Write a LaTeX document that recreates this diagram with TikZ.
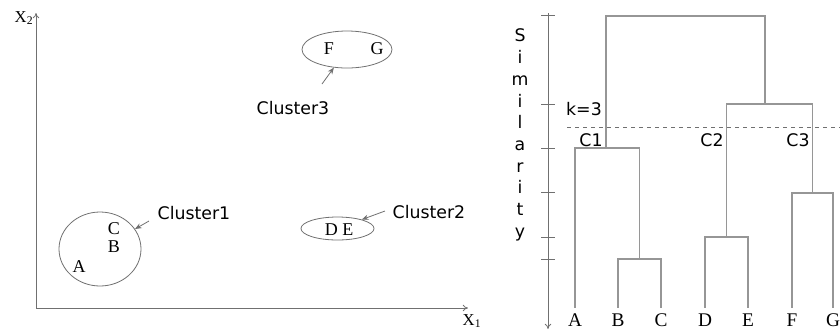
\documentclass[tikz,border=0pt]{standalone}
\usepackage{fontspec}
\setmainfont{Liberation Serif}
\setsansfont{DejaVu Sans}
\usetikzlibrary{arrows.meta,shapes.geometric}
\definecolor{axgray}{RGB}{112,112,112}
\definecolor{treegray}{RGB}{150,150,150}

\begin{document}
\begin{tikzpicture}[x=.75pt,y=-.75pt,
    axis/.style={draw=axgray,line width=.6pt,-{To[length=4pt,width=5pt]}},
    blob/.style={ellipse,draw=axgray,line width=.6pt,inner sep=0pt},
    ptr/.style={draw=axgray,line width=.6pt,-{Stealth[length=5pt,width=4pt]}},
    pt/.style={font=\fontsize{13.5}{15}\selectfont,inner sep=0pt},
    lab/.style={font=\sffamily\fontsize{13}{15}\selectfont,inner sep=0pt},
    leaf/.style={font=\fontsize{14.5}{16}\selectfont,inner sep=0pt,
      text height=9.6pt,text depth=0pt,outer ysep=4.5pt},
    tree/.style={draw=treegray,line width=1pt},
    tick/.style={draw=axgray,line width=.6pt}]
  \useasboundingbox (0,0) rectangle (840,330);

  % Scatter plot: the two axes.
  \coordinate (orig) at (36,308);
  \coordinate (xtip) at (468,308);
  \coordinate (ytip) at (36,13);
  \draw[axis] (orig) -- (xtip);
  \draw[axis] (orig) -- (ytip);
  \node[pt,font=\fontsize{12.5}{14}\selectfont] (xlab) at (472,321) {X\textsubscript{1}};
  \node[pt,font=\fontsize{12.5}{14}\selectfont] (ylab) at (24,18) {X\textsubscript{2}};

  % Cluster1: A, B, C in a circle.
  \node[blob,minimum width=61.5pt,minimum height=55.5pt] (ell1) at (100,249) {};
  \node[pt] (pa) at (79,267) {A};
  \node[pt] (pb) at (114,247) {B};
  \node[pt] (pc) at (114,229) {C};
  \node[lab] (lab1) at (194,213) {Cluster1};
  \coordinate (tail1) at (149,221);
  \draw[ptr] (tail1) -- (ell1);

  % Cluster2: D and E.
  \node[blob,minimum width=54.75pt,minimum height=17.25pt] (ell2) at (337.5,228.5) {};
  \node[pt] (pde) at (339,230) {D E};
  \node[lab] (lab2) at (429,212) {Cluster2};
  \coordinate (tail2) at (385,211);
  \draw[ptr] (tail2) -- (ell2);

  % Cluster3: F and G.
  \node[blob,minimum width=67.5pt,minimum height=27.75pt] (ell3) at (347,49.5) {};
  \node[pt] (pf) at (329,49) {F};
  \node[pt] (pg) at (377,49) {G};
  \node[lab] (lab3) at (293,108) {Cluster3};
  \coordinate (tail3) at (322,84);
  \draw[ptr] (tail3) -- (ell3);

  % Dendrogram: similarity axis with ticks.
  \coordinate (stop) at (548,13);
  \coordinate (sbot) at (548,329);
  \draw[axis] (stop) -- (sbot);
  \foreach \ty in {15,104,148,192,237,259}
    \draw[tick] (541,\ty) -- (555,\ty);
  \node[lab,font=\sffamily\fontsize{13}{16.3}\selectfont,align=center]
    (simlab) at (520,135) {S\\i\\m\\i\\l\\a\\r\\i\\t\\y};

  % Leaves.
  \node[leaf] (A) at (575,320) {A};
  \node[leaf] (B) at (618,320) {B};
  \node[leaf] (C) at (661,320) {C};
  \node[leaf] (D) at (705,320) {D};
  \node[leaf] (E) at (748,320) {E};
  \node[leaf] (F) at (792,320) {F};
  \node[leaf] (G) at (833,320) {G};

  % Merge points.
  \coordinate (jBC) at (639.5,259);
  \coordinate (jDE) at (726.5,237);
  \coordinate (jFG) at (812.5,193);
  \coordinate (jABC) at (606,148);
  \coordinate (jR) at (765,104);
  \coordinate (jTop) at (685,16);
  \draw[tree] (B.north) |- (jBC) -| (C.north);
  \draw[tree] (A.north) |- (jABC) -| (jBC);
  \draw[tree] (D.north) |- (jDE) -| (E.north);
  \draw[tree] (F.north) |- (jFG) -| (G.north);
  \draw[tree] (jDE) |- (jR) -| (jFG);
  \draw[tree] (jABC) |- (jTop) -| (jR);

  % Cut at k=3.
  \coordinate (cutl) at (567,127);
  \coordinate (cutr) at (842,127);
  \draw[axgray,line width=.6pt,dash pattern=on 3pt off 3pt] (cutl) -- (cutr);
  \node[lab] (klab) at (584,109) {k=3};
  \node[lab] (c1) at (591,140) {C1};
  \node[lab] (c2) at (712,140) {C2};
  \node[lab] (c3) at (798,140) {C3};
\end{tikzpicture}
\end{document}
